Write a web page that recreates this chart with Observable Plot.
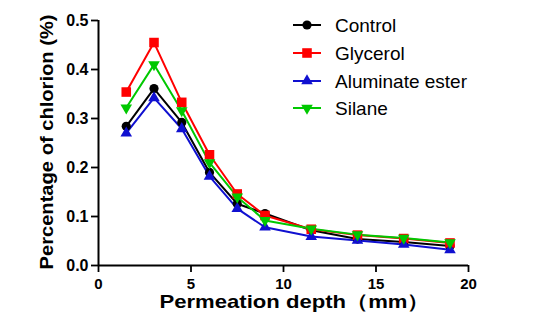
<!DOCTYPE html>
<html><head><meta charset="utf-8">
<script src="https://cdn.jsdelivr.net/npm/d3@7"></script>
<script src="https://cdn.jsdelivr.net/npm/@observablehq/plot@0.6"></script>
<style>
body{margin:0;background:#fff}
#wrap{position:relative;width:550px;height:331px;overflow:hidden}
#wrap svg{position:absolute;left:0;top:0}
</style>
</head><body><div id="wrap"></div>
<script>
const depth = [1.5, 3, 4.5, 6, 7.5, 9, 11.5, 14, 16.5, 19];
const control   = [0.284, 0.361, 0.292, 0.190, 0.126, 0.106, 0.072, 0.054, 0.048, 0.040];
const glycerol  = [0.354, 0.455, 0.333, 0.226, 0.146, 0.102, 0.074, 0.062, 0.055, 0.046];
const aluminate = [0.270, 0.342, 0.279, 0.182, 0.116, 0.078, 0.059, 0.051, 0.043, 0.032];
const silane    = [0.322, 0.410, 0.316, 0.210, 0.140, 0.092, 0.075, 0.063, 0.056, 0.047];
const seriesNames = ["Control", "Glycerol", "Aluminate ester", "Silane"];
const seriesValues = [control, glycerol, aluminate, silane];
const colors = ["#000000", "#ff0000", "#1010d0", "#00c800"];
const xTicks = [0, 5, 10, 15, 20];
const yTicks = [0, 0.1, 0.2, 0.3, 0.4, 0.5];

const triangleDown = {
  draw(context, size) {
    const sqrt3 = Math.sqrt(3);
    const y = -Math.sqrt(size / (sqrt3 * 3));
    context.moveTo(0, -y * 2);
    context.lineTo(-sqrt3 * y, y);
    context.lineTo(sqrt3 * y, y);
    context.closePath();
  }
};
const symbols = [d3.symbolCircle, d3.symbolSquare, d3.symbolTriangle, triangleDown];
const radii = [4.6, 5.4, 4.3, 4.3];

const rows = [];
seriesNames.forEach((s, i) => depth.forEach((d, j) => rows.push({series: s, depth: d, value: seriesValues[i][j]})));

const font = "'Liberation Sans', Arial, sans-serif";
const xLabel = "Permeation depth（mm）";
const yLabel = "Percentage of chlorion (%)";
const chart = Plot.plot({
  width: 550, height: 331,
  marginLeft: 98, marginRight: 82, marginTop: 20, marginBottom: 66,
  x: {domain: [0, 20]},
  y: {domain: [0, 0.5]},
  style: {fontFamily: font, fontWeight: "bold", fontSize: "15px", color: "#000", background: "transparent"},
  marks: [
    Plot.axisX({ticks: xTicks, tickSize: 7, tickPadding: 6, strokeWidth: 1.8, label: null, fontSize: 15}),
    Plot.axisY({ticks: yTicks, tickFormat: d3.format(".1f"), tickSize: 7, tickPadding: 3, strokeWidth: 1.8, label: null, fontSize: 16}),
    Plot.ruleX([0], {stroke: "#000", strokeWidth: 2}),
    Plot.ruleY([0], {stroke: "#000", strokeWidth: 2}),
    ...seriesNames.map((s, i) => Plot.line(rows.filter(r => r.series === s), {x: "depth", y: "value", stroke: colors[i], strokeWidth: 2})),
    ...seriesNames.map((s, i) => Plot.dot(rows.filter(r => r.series === s), {x: "depth", y: "value", fill: colors[i], stroke: "none", symbol: () => symbols[i], r: radii[i]})),
    Plot.text([xLabel], {frameAnchor: "bottom", textAnchor: "middle", lineAnchor: "middle", dx: 11, dy: 36, fontSize: 19, fontWeight: "bold", fontFamily: font, className: "xlab"}),
    Plot.text([yLabel], {frameAnchor: "left", textAnchor: "middle", lineAnchor: "middle", dx: -52, dy: -1, rotate: -90, fontSize: 19, fontWeight: "bold", fontFamily: font, className: "ylab"})
  ]
});
document.getElementById("wrap").appendChild(chart);
d3.select(chart).selectAll("text").filter(function() { return this.textContent === xLabel; })
  .attr("textLength", 270).attr("lengthAdjust", "spacingAndGlyphs");
d3.select(chart).selectAll("text").filter(function() { return this.textContent === yLabel; })
  .attr("textLength", 255).attr("lengthAdjust", "spacingAndGlyphs");

// legend overlay
const leg = d3.select("#wrap").append("svg").attr("width", 550).attr("height", 331).style("pointer-events", "none");
const legendY = [25, 53, 81, 108];
seriesNames.forEach((s, i) => {
  const g = leg.append("g").attr("transform", `translate(0,${legendY[i]})`);
  g.append("line").attr("x1", 293).attr("x2", 321).attr("y1", 0).attr("y2", 0).attr("stroke", colors[i]).attr("stroke-width", 2);
  g.append("path").attr("transform", "translate(307,0)").attr("d", d3.symbol(symbols[i], radii[i] * radii[i] * Math.PI)()).attr("fill", colors[i]);
  g.append("text").attr("x", 335).attr("y", 0).attr("dy", "0.35em").attr("font-family", font).attr("font-size", 19).attr("fill", "#000").text(s);
});
</script>
</body></html>
